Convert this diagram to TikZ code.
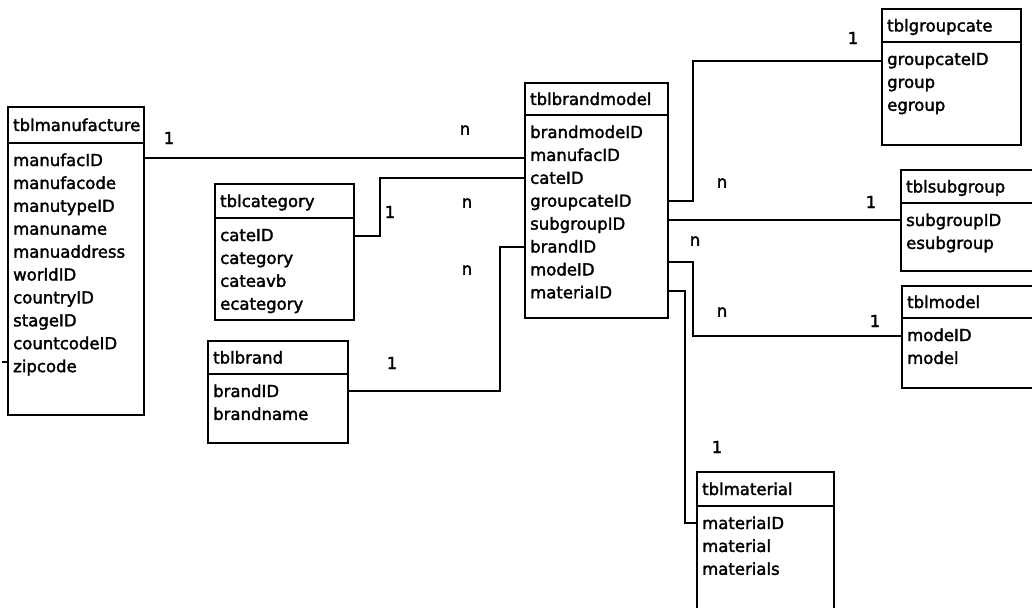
\documentclass[tikz,border=0pt]{standalone}
\usepackage{fontspec}
\setmainfont{DejaVu Sans}[BoldFont={DejaVu Sans}, BoldFeatures={FakeBold=2}]
\newcommand\dbtable[7]{%
  \node[box, minimum width=#6pt, minimum height={(#4-#3)*1pt}, anchor=north west] (#1H) at (#2,#3) {};
  \node[box, minimum width=#6pt, minimum height={(#5-#4)*1pt}, anchor=north west] (#1B) at (#2,#4) {};
  \node[txt] (#1T) at ({#2+5},{(#3+#4)/2+6}) {#7};
  \foreach \r [count=\i from 0] in \rows {\node[txt] (#1R\i) at ({#2+5},{#4+23+22.9*\i}) {\r};}
}
\begin{document}
\begin{tikzpicture}[x=1pt,y=-1pt,
  box/.style={draw, line width=2pt, inner sep=0pt, outer sep=0pt},
  txt/.style={anchor=base west, inner sep=0pt, font=\fontsize{16.5}{20}\selectfont\bfseries},
  lbl/.style={anchor=center, inner sep=0pt, font=\fontsize{16.5}{20}\selectfont\bfseries},
  conn/.style={line width=1.5pt}]
\useasboundingbox (0,0) rectangle (1032,607);
\clip (0,0) rectangle (1032,607);

\def\rows{manufacID,manufacode,manutypeID,manuname,manuaddress,worldID,countryID,stageID,countcodeID,zipcode}
\dbtable{manu}{8}{107}{143}{415}{136}{tblmanufacture}

\def\rows{cateID,category,cateavb,ecategory}
\dbtable{cat}{215}{184}{218}{320}{139}{tblcategory}

\def\rows{brandID,brandname}
\dbtable{br}{208}{341}{374}{443}{140}{tblbrand}

\def\rows{brandmodeID,manufacID,cateID,groupcateID,subgroupID,brandID,modeID,materiaID}
\dbtable{bm}{525}{83}{115}{318}{143}{tblbrandmodel}

\def\rows{groupcateID,group,egroup}
\dbtable{gc}{882}{9}{42}{145}{139}{tblgroupcate}

\def\rows{subgroupID,esubgroup}
\dbtable{sg}{901}{170}{203}{271}{150}{tblsubgroup}

\def\rows{modeID,model}
\dbtable{mo}{902}{286}{318}{388}{150}{tblmodel}

\def\rows{materiaID,material,materials}
\dbtable{ma}{697}{472}{506}{625}{137}{tblmaterial}

% connectors
\draw[conn] (manuB.east |- 0,158) -- (bmB.west |- 0,158);
\draw[conn] (catB.east |- 0,236) -- ++(26,0) |- (bmB.west |- 0,178);
\draw[conn] (brB.east |- 0,391) -- ++(152,0) |- (bmB.west |- 0,247);
\draw[conn] (bmB.east |- 0,201) -- ++(25,0) |- (gcB.west |- 0,61);
\draw[conn] (bmB.east |- 0,220) -- (sgB.west |- 0,220);
\draw[conn] (bmB.east |- 0,262) -- ++(25,0) |- (moB.west |- 0,336);
\draw[conn] (bmB.east |- 0,291) -- ++(17,0) |- (maB.west |- 0,523);
\coordinate (stub) at (2,362);
\draw[conn] (stub) -- (stub -| manuB.west);

% cardinality labels
\node[lbl] (l1) at (169,138) {1};
\node[lbl] (l2) at (465,130) {n};
\node[lbl] (l3) at (390,212) {1};
\node[lbl] (l4) at (467,203) {n};
\node[lbl] (l5) at (392,363) {1};
\node[lbl] (l6) at (467,270) {n};
\node[lbl] (l7) at (853,38) {1};
\node[lbl] (l8) at (722,183) {n};
\node[lbl] (l9) at (871,202) {1};
\node[lbl] (l10) at (695,241) {n};
\node[lbl] (l11) at (722,312) {n};
\node[lbl] (l12) at (875,321) {1};
\node[lbl] (l13) at (717,447) {1};
\end{tikzpicture}
\end{document}
